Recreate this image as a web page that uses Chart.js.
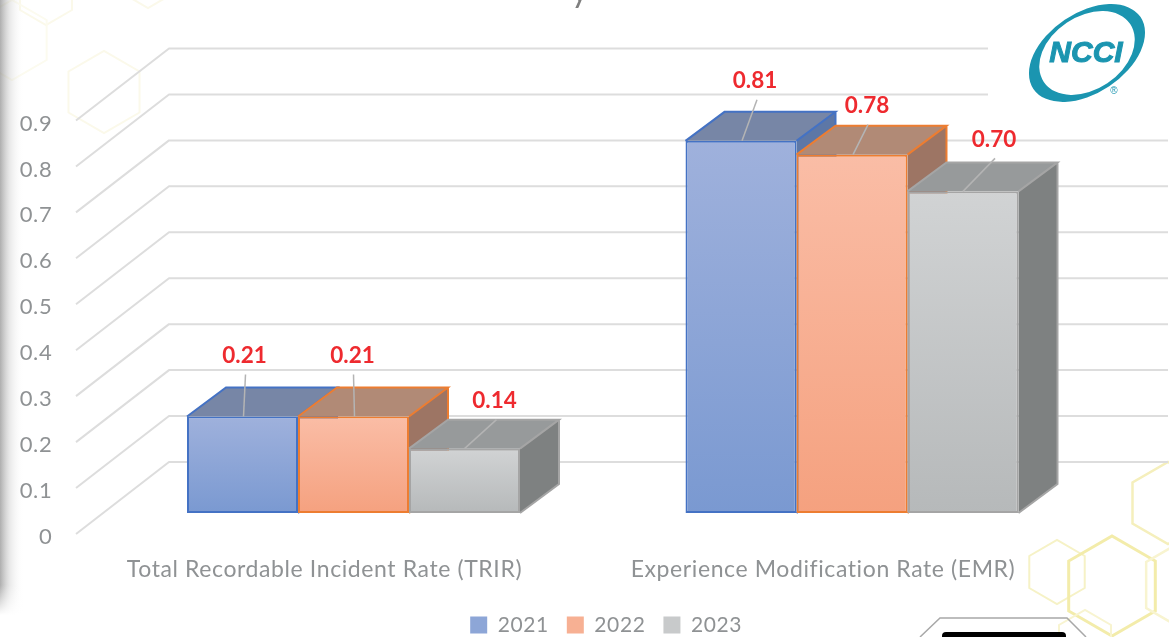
<!DOCTYPE html>
<html>
<head>
<meta charset="utf-8">
<style>html,body{margin:0;padding:0;background:#fff}canvas{display:block}</style>
<script src="https://cdn.jsdelivr.net/npm/chart.js@4/dist/chart.umd.min.js"></script>
</head>
<body>
<canvas id="c" width="1169" height="637"></canvas>
<script>
const categories = ["Total Recordable Incident Rate (TRIR)", "Experience Modification Rate (EMR)"];
const seriesNames = ["2021", "2022", "2023"];
const values2021 = [0.21, 0.81];
const values2022 = [0.21, 0.78];
const values2023 = [0.14, 0.70];

const FONT = "Lato, Carlito, sans-serif";
const DEPTH = {dx: 39, dy: 29};
const WALL = {dy: -51, frontX: 76, backX: 169, rightX: 1168, frontDy: 21};
const LOOK = [
  {top:'#9fb1dc', bottom:'#7a99d1', edge:'#4472c4', roof:'#7786a6', side:'#5d77a6', mid:'#8da6d7'},
  {top:'#fabda6', bottom:'#f5a17f', edge:'#ed7d31', roof:'#b18a76', side:'#9d7564', mid:'#f7b093'},
  {top:'#d1d3d4', bottom:'#b6b9ba', edge:'#a5a5a5', roof:'#979a9b', side:'#7e8181', mid:'#c8cacb'}
];
const NUDGE = [
  [[2, -61, 3], [14, -60, 16]],
  [[-1, -61, 0], [15, -49, 16]],
  [[30, -48, 32], [31, -52, 32]]
];

function frontFill(i) {
  return ctx => {
    if (!ctx.parsed || !ctx.chart.chartArea) return LOOK[i].mid;
    const s = ctx.chart.scales.y;
    const g = ctx.chart.ctx.createLinearGradient(0, s.getPixelForValue(ctx.parsed.y), 0, s.getPixelForValue(0));
    g.addColorStop(0, LOOK[i].top);
    g.addColorStop(1, LOOK[i].bottom);
    return g;
  };
}
function hex(c, x, y, r, col, lw) {
  c.beginPath();
  for (let k = 0; k < 6; k++) {
    const a = Math.PI / 6 + k * Math.PI / 3;
    const px = x + r * Math.cos(a), py = y + r * Math.sin(a);
    k ? c.lineTo(px, py) : c.moveTo(px, py);
  }
  c.closePath();
  c.strokeStyle = col; c.lineWidth = lw; c.stroke();
}
function poly(c, pts, fill) {
  c.beginPath();
  pts.forEach((p, i) => i ? c.lineTo(p[0], p[1]) : c.moveTo(p[0], p[1]));
  c.closePath();
  c.fillStyle = fill; c.fill();
}
function faces(c, meta, L) {
  meta.data.forEach(b => {
    const xl = b.x - b.width / 2, xr = b.x + b.width / 2, yt = b.y, yb = b.base;
    const {dx, dy} = DEPTH;
    poly(c, [[xr, yt], [xr + dx, yt - dy], [xr + dx, yb - dy], [xr, yb]], L.side);
    poly(c, [[xl, yt], [xl + dx, yt - dy], [xr + dx, yt - dy], [xr, yt]], L.roof);
    c.strokeStyle = L.edge; c.lineWidth = 2;
    c.beginPath();
    c.moveTo(xl, yt); c.lineTo(xl + dx, yt - dy); c.lineTo(xr + dx, yt - dy); c.lineTo(xr, yt);
    c.moveTo(xr + dx, yt - dy); c.lineTo(xr + dx, yb - dy); c.lineTo(xr, yb);
    c.stroke();
  });
}

const scene = {
  id: 'scene',
  afterInit(chart) { chart.ctx.letterSpacing = '0.6px'; },
  afterLayout(chart) {
    const l = chart.legend;
    l.left += 55.5; l.right += 55.5; l.top += 8.5; l.bottom += 8.5;
  },
  beforeDraw(chart) {
    const c = chart.ctx;
    c.save();
    c.fillStyle = '#fff'; c.fillRect(0, 0, 1169, 637);
    hex(c, 104, 92, 41, '#fbf9ea', 2);
    hex(c, 46, -5, 30, '#fbf9ea', 2);
    hex(c, 12, 40, 40, '#fcfbef', 2);
    hex(c, 148, -12, 20, '#fbf9ea', 2);
    hex(c, 1057, 572, 32, '#f6f2c6', 2);
    hex(c, 1112, 586, 50, '#f3ecaa', 3);
    hex(c, 1168, 503, 41, '#f5efbc', 2.5);
    hex(c, 1186, 585, 46, '#f8f4d0', 2.5);
    hex(c, 1085, 640, 30, '#f8f4d0', 2);
    const g = c.createLinearGradient(0, 0, 24, 0);
    g.addColorStop(0, 'rgba(120,120,120,0.6)');
    g.addColorStop(0.4, 'rgba(180,180,180,0.3)');
    g.addColorStop(1, 'rgba(255,255,255,0)');
    c.fillStyle = g; c.fillRect(0, 0, 24, 615);
    const g2 = c.createLinearGradient(0, 585, 0, 615);
    g2.addColorStop(0, 'rgba(255,255,255,0)');
    g2.addColorStop(1, 'rgba(255,255,255,1)');
    c.fillStyle = g2; c.fillRect(0, 585, 24, 30);
    c.fillStyle = '#7f7f7f'; c.font = '34px ' + FONT;
    c.textAlign = 'center'; c.textBaseline = 'alphabetic';
    c.fillText('y', 580, 2);
    const s = chart.scales.y;
    c.strokeStyle = '#dddddd'; c.lineWidth = 2; c.lineJoin = 'round';
    s.ticks.forEach(t => {
      const y = s.getPixelForValue(t.value);
      c.beginPath();
      c.moveTo(WALL.frontX, y + WALL.frontDy);
      c.lineTo(WALL.backX, y + WALL.dy);
      c.lineTo(WALL.rightX, y + WALL.dy);
      c.stroke();
    });
    c.fillStyle = '#fff'; c.fillRect(988, 0, 181, 118);
    c.restore();
  },
  beforeDatasetsDraw(chart) {
    const c = chart.ctx;
    chart.data.datasets.forEach((ds, i) => {
      const meta = chart.getDatasetMeta(i);
      c.save();
      faces(c, meta, LOOK[i]);
      c.restore();
      meta.controller.draw();
    });
    scene.paintLabels(chart);
    return false;
  },
  paintLabels(chart) {
    const c = chart.ctx;
    c.save();
    c.letterSpacing = '0px';
    chart.data.datasets.forEach((ds, i) => {
      chart.getDatasetMeta(i).data.forEach((b, j) => {
        const [nx, ny, lx] = NUDGE[i][j];
        c.strokeStyle = '#b4b4b4'; c.lineWidth = 1.5;
        c.beginPath();
        c.moveTo(b.x + (i === 2 ? 0 : 1), b.y);
        c.lineTo(b.x + lx, b.y + ny + 19);
        c.stroke();
        c.fillStyle = '#ee2a2f';
        c.font = 'bold 22.5px ' + FONT;
        c.textAlign = 'center'; c.textBaseline = 'middle';
        c.fillText(ds.data[j].toFixed(2), b.x + nx, b.y + ny);
      });
    });
    c.translate(1087, 53);
    c.fillStyle = '#1b95b0';
    c.save();
    c.rotate(-0.59);
    c.beginPath();
    c.ellipse(0, 0, 64.5, 40, 0, 0, Math.PI * 2);
    c.ellipse(0, 0, 52, 36.5, 0, 0, Math.PI * 2, true);
    c.fill('evenodd');
    c.restore();
    c.strokeStyle = '#1b95b0'; c.lineWidth = 1;
    c.font = 'italic bold 30px "Liberation Sans", sans-serif';
    c.textAlign = 'center'; c.textBaseline = 'middle';
    c.fillText('NCCI', -1, 1);
    c.strokeText('NCCI', -1, 1);
    c.font = '10px "Liberation Sans", sans-serif';
    c.fillText('®', 27, 38);
    c.restore();
  },
  afterDraw(chart) {
    const c = chart.ctx;
    c.save();
    c.strokeStyle = '#a8a8a8'; c.lineWidth = 1.5;
    c.beginPath(); c.moveTo(920, 637); c.lineTo(940, 618); c.lineTo(1067, 618); c.lineTo(1086, 637); c.stroke();
    c.fillStyle = '#000';
    c.beginPath(); c.roundRect(942, 632, 124, 12, 4); c.fill();
    c.restore();
  }
};

new Chart(document.getElementById('c'), {
  type: 'bar',
  data: {
    labels: categories,
    datasets: [values2021, values2022, values2023].map((d, i) => ({
      label: seriesNames[i],
      data: d,
      backgroundColor: frontFill(i),
      borderColor: LOOK[i].edge,
      borderWidth: 2,
      borderSkipped: false,
      categoryPercentage: 0.668,
      barPercentage: 1
    }))
  },
  options: {
    responsive: false,
    animation: false,
    layout: {padding: {top: 7.6, right: 67.75, left: 0, bottom: 0}},
    plugins: {
      tooltip: {enabled: false},
      title: {display: false},
      legend: {
        position: 'bottom',
        labels: {
          boxWidth: 17, boxHeight: 17, padding: 18,
          color: '#8f9294',
          font: {family: FONT, size: 21},
          generateLabels: chart => seriesNames.map((n, i) => ({
            text: n, fillStyle: LOOK[i].mid, strokeStyle: LOOK[i].mid, lineWidth: 0,
            fontColor: '#8f9294', datasetIndex: i
          }))
        }
      }
    },
    scales: {
      x: {
        grid: {display: false, drawTicks: false},
        border: {display: false},
        afterFit: s => { s.height = 75; },
        ticks: {
          color: '#8f9294', font: {family: FONT, size: 23},
          padding: 43, labelOffset: -29, maxRotation: 0, autoSkip: false
        }
      },
      y: {
        min: 0, max: 1.1,
        grid: {display: false, drawTicks: false},
        border: {display: false},
        afterFit: s => { s.width = 104.25; s.paddingTop = 0; s.paddingBottom = 0; },
        afterBuildTicks: s => { s.ticks = s.ticks.filter(t => t.value <= 0.9001); },
        ticks: {
          stepSize: 0.1, color: '#8f9294', font: {family: FONT, size: 22},
          padding: 52, labelOffset: 24
        }
      }
    }
  },
  plugins: [scene]
});
</script>
</body>
</html>
